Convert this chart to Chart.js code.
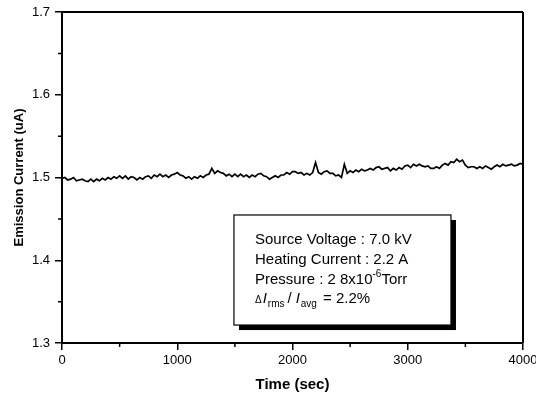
<!DOCTYPE html>
<html><head><meta charset="utf-8">
<script src="https://cdn.jsdelivr.net/npm/chart.js@4"></script>
<style>html,body{margin:0;padding:0;background:#fff}#wrap{width:536px;height:399px}</style>
</head><body><div id="wrap"><canvas id="c" width="536" height="399"></canvas></div>
<script>
// ---- data ----
const timeStep = 25; // seconds between samples, starting at 0
const current = [
  1.499,1.500,1.497,1.498,1.500,1.496,1.497,1.498,1.496,1.495,
  1.498,1.495,1.498,1.496,1.499,1.497,1.500,1.498,1.501,1.499,
  1.502,1.499,1.502,1.498,1.501,1.500,1.497,1.500,1.498,1.501,
  1.502,1.499,1.503,1.501,1.504,1.501,1.503,1.500,1.503,1.504,
  1.506,1.503,1.502,1.499,1.501,1.498,1.501,1.499,1.502,1.500,
  1.503,1.504,1.511,1.505,1.508,1.506,1.505,1.502,1.504,1.501,
  1.504,1.501,1.504,1.501,1.503,1.500,1.503,1.501,1.504,1.505,
  1.502,1.501,1.498,1.500,1.502,1.500,1.503,1.503,1.506,1.504,
  1.507,1.507,1.505,1.506,1.503,1.505,1.503,1.506,1.518,1.506,
  1.504,1.507,1.508,1.505,1.505,1.502,1.503,1.500,1.516,1.505,
  1.508,1.506,1.509,1.507,1.510,1.508,1.509,1.511,1.509,1.512,
  1.513,1.510,1.511,1.512,1.508,1.511,1.509,1.512,1.510,1.514,
  1.515,1.512,1.516,1.514,1.516,1.514,1.513,1.514,1.511,1.511,
  1.513,1.511,1.515,1.517,1.515,1.519,1.518,1.522,1.519,1.521,
  1.515,1.512,1.513,1.513,1.511,1.513,1.511,1.514,1.512,1.510,
  1.513,1.515,1.513,1.516,1.514,1.515,1.516,1.514,1.515,1.517,
  1.516
];
const xTicks = [0, 1000, 2000, 3000, 4000];
const xMinorTicks = [500, 1500, 2500, 3500];
const yTicks = [1.3, 1.4, 1.5, 1.6, 1.7];
const yMinorTicks = [1.35, 1.45, 1.55, 1.65];
const xTitle = 'Time (sec)';
const yTitle = 'Emission Current (uA)';
const noteBoxX = [1492, 3375];   // data-space extent of the annotation box
const noteBoxY = [1.4547, 1.3217];

// ---- build ----
const points = current.map((v, i) => ({ x: i * timeStep, y: v }));
const FONT = "'Liberation Sans', Arial, sans-serif";

const framePlugin = {
  id: 'frame',
  afterDraw(chart) {
    const { ctx, chartArea: a, scales: { x, y } } = chart;
    ctx.save();
    ctx.strokeStyle = '#000';
    ctx.lineWidth = 2;
    ctx.beginPath();
    ctx.moveTo(a.left, a.top); ctx.lineTo(a.right, a.top);
    ctx.moveTo(a.right, a.top); ctx.lineTo(a.right, a.bottom);
    ctx.stroke();
    // minor ticks
    ctx.lineWidth = 1.5;
    ctx.beginPath();
    xMinorTicks.forEach(v => { const px = x.getPixelForValue(v); ctx.moveTo(px, a.bottom); ctx.lineTo(px, a.bottom + 4); });
    yMinorTicks.forEach(v => { const py = y.getPixelForValue(v); ctx.moveTo(a.left, py); ctx.lineTo(a.left - 4, py); });
    ctx.stroke();

    // annotation box
    const bx0 = x.getPixelForValue(noteBoxX[0]), bx1 = x.getPixelForValue(noteBoxX[1]);
    const by0 = y.getPixelForValue(noteBoxY[0]), by1 = y.getPixelForValue(noteBoxY[1]);
    ctx.fillStyle = '#000';
    ctx.fillRect(bx0 + 5, by0 + 5, bx1 - bx0, by1 - by0);
    ctx.fillStyle = '#fff';
    ctx.fillRect(bx0, by0, bx1 - bx0, by1 - by0);
    ctx.strokeStyle = '#000'; ctx.lineWidth = 1.2;
    ctx.strokeRect(bx0, by0, bx1 - bx0, by1 - by0);

    ctx.fillStyle = '#000';
    ctx.textBaseline = 'alphabetic';
    ctx.textAlign = 'left';
    const tx = bx0 + 21;
    const f = s => s + 'px ' + FONT;
    ctx.font = f(15);
    ctx.fillText('Source Voltage : 7.0 kV', tx, by0 + 29);
    ctx.fillText('Heating Current : 2.2 A', tx, by0 + 49);
    // pressure line
    let cx = tx, bl = by0 + 69;
    let s = 'Pressure : 2 8x10';
    ctx.fillText(s, cx, bl); cx += ctx.measureText(s).width;
    ctx.font = f(10); ctx.fillText('-6', cx, bl - 7); cx += ctx.measureText('-6').width;
    ctx.font = f(15); ctx.fillText('Torr', cx, bl);
    // ratio line
    cx = tx; bl = by0 + 88;
    ctx.font = f(10); ctx.fillText('\u0394', cx, bl); cx += ctx.measureText('\u0394').width + 1;
    ctx.font = 'italic ' + f(15); ctx.fillText('I', cx, bl); cx += ctx.measureText('I').width + 1;
    ctx.font = f(10); ctx.fillText('rms', cx, bl + 4); cx += ctx.measureText('rms').width + 3;
    ctx.font = f(15); ctx.fillText('/', cx, bl); cx += ctx.measureText('/').width + 4;
    ctx.font = 'italic ' + f(15); ctx.fillText('I', cx, bl); cx += ctx.measureText('I').width + 1;
    ctx.font = f(10); ctx.fillText('avg', cx, bl + 4); cx += ctx.measureText('avg').width + 2;
    ctx.font = f(15); ctx.fillText(' = 2.2%', cx, bl);
    ctx.restore();
  }
};

new Chart(document.getElementById('c'), {
  type: 'line',
  data: {
    datasets: [{
      data: points,
      borderColor: '#000',
      borderWidth: 1.7,
      pointRadius: 0,
      tension: 0,
      fill: false
    }]
  },
  options: {
    responsive: false,
    animation: false,
    devicePixelRatio: 1,
    layout: { padding: { left: 0, right: 13, top: 12, bottom: 0 } },
    plugins: { legend: { display: false }, tooltip: { enabled: false } },
    scales: {
      x: {
        type: 'linear', min: 0, max: 4000,
        afterBuildTicks: s => { s.ticks = xTicks.map(v => ({ value: v })); },
        afterFit: s => { s.height = 56; s.paddingLeft = 0; s.paddingRight = 0; },
        ticks: { color: '#000', font: { family: FONT, size: 13 }, padding: 3, maxRotation: 0, autoSkip: false, callback: v => String(v) },
        grid: { drawOnChartArea: false, drawTicks: true, tickLength: 7, color: '#000', lineWidth: 1.5 },
        border: { display: true, color: '#000', width: 2 },
        title: { display: true, text: xTitle, color: '#000', font: { family: FONT, size: 15, weight: 'bold' }, padding: { top: 0, bottom: 5 } }
      },
      y: {
        type: 'linear', min: 1.3, max: 1.7,
        afterBuildTicks: s => { s.ticks = yTicks.map(v => ({ value: v })); },
        afterFit: s => { s.width = 62; s.paddingTop = 0; s.paddingBottom = 0; },
        ticks: { color: '#000', font: { family: FONT, size: 13 }, padding: 5, callback: v => Number(v).toFixed(1) },
        grid: { drawOnChartArea: false, drawTicks: true, tickLength: 7, color: '#000', lineWidth: 1.5 },
        border: { display: true, color: '#000', width: 2 },
        title: { display: true, text: yTitle, color: '#000', font: { family: FONT, size: 13, weight: 'bold' }, padding: { top: 12, bottom: 0 } }
      }
    }
  },
  plugins: [framePlugin]
});
</script>
</body></html>
